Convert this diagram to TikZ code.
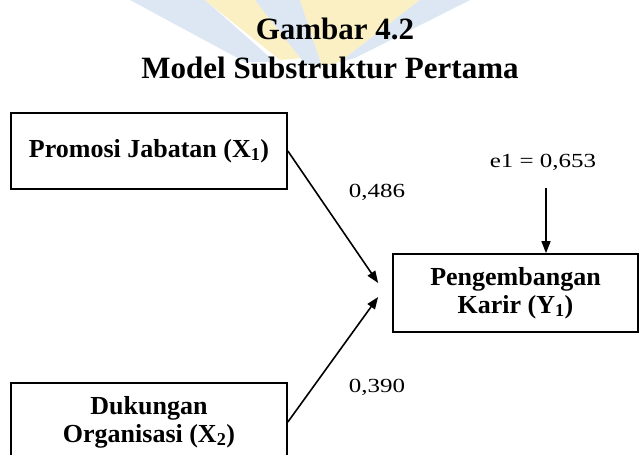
\documentclass[tikz,border=0pt]{standalone}
\usepackage{fontspec}
\setmainfont{Liberation Serif}
\usetikzlibrary{arrows.meta,calc}
\definecolor{wmyellow}{HTML}{FBF0C4}
\definecolor{wmblue}{HTML}{DDE7F4}
\begin{document}
\begin{tikzpicture}[x=1pt,y=-1pt,
  box/.style={draw,line width=1.7pt,font=\fontsize{26}{28}\selectfont\bfseries,align=center,inner sep=0pt},
  arr/.style={line width=1.6pt,-{Triangle[length=12pt,width=9pt]}},
  lbl/.style={font=\fontsize{20}{22}\selectfont},
  ttl/.style={font=\fontsize{31}{33}\selectfont\bfseries,anchor=base}]
\clip (0,0) rectangle (640,455);
\fill[white] (0,0) rectangle (640,455);
% faint watermark behind the title
\fill[wmblue] (130,0) -- (205,0) -- (275,62) -- (245,62) -- cycle;
\fill[wmyellow] (205,0) -- (255,0) -- (305,58) -- (280,60) -- cycle;
\fill[wmblue] (255,0) -- (300,0) -- (322,66) -- (305,64) -- cycle;
\fill[wmyellow] (300,0) -- (420,0) -- (340,62) -- (322,66) -- cycle;
\fill[wmblue] (420,0) -- (470,0) -- (355,58) -- (340,62) -- cycle;
% title
\node[ttl] (t1) at (335,39) {Gambar 4.2};
\node[ttl] (t2) at (330,78) {Model Substruktur Pertama};
% boxes
\node[box, minimum width=276pt, minimum height=76pt] (x1) at (149,151) {Promosi Jabatan (X\textsubscript{1})};
\node[box, minimum width=276pt, minimum height=78pt] (x2) at (149,422) {Dukungan\\Organisasi (X\textsubscript{2})};
\node[box, minimum width=245pt, minimum height=78pt] (y1) at (515.5,293) {Pengembangan\\Karir (Y\textsubscript{1})};
% arrow ends
\coordinate (p1) at ($(y1.west)+(-14,-10)$);
\coordinate (p2) at ($(y1.west)+(-14,4)$);
\coordinate (e1s) at (546,188);
\draw[arr] (x1.east) -- (p1);
\draw[arr] (x2.east) -- (p2);
\draw[arr] (e1s) -- (e1s |- y1.north);
% labels
\node[lbl] (l1) at (377,192) {\scalebox{1.25}[1]{0,486}};
\node[lbl] (l2) at (377,387) {\scalebox{1.25}[1]{0,390}};
\node[lbl,anchor=base] (e1) at (543,167) {\scalebox{1.25}[1]{e1 = 0,653}};
\end{tikzpicture}
\end{document}
